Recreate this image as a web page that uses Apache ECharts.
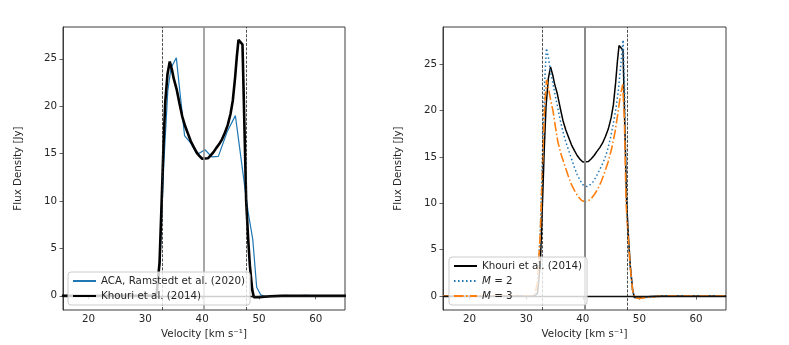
<!DOCTYPE html>
<html>
<head>
<meta charset="utf-8">
<script src="https://cdn.jsdelivr.net/npm/echarts@6/dist/echarts.min.js"></script>
<style>
html,body{margin:0;padding:0;background:#fff;}
#chart{width:789px;height:345px;}
</style>
</head>
<body>
<div id="chart"></div>
<script>
// ---- Data ----
const xTicks = [20, 30, 40, 50, 60];
const yTicks = [0, 5, 10, 15, 20, 25];
const vDashed = [32.9, 47.85];
const vCenter = 40.35;
const hZero = 0;

const acaName = 'ACA, Ramstedt et al. (2020)';
const khouriName = 'Khouri et al. (2014)';
const m2Name = 'M = 2';
const m3Name = 'M = 3';

const acaV = [15.5, 16.6, 17.7, 18.8, 19.9, 21.0, 22.1, 23.2, 24.3, 25.4, 26.5, 27.6, 28.7, 29.8, 30.9, 32.0, 32.6, 33.25, 33.95, 34.5, 35.45, 36.9, 38.0, 39.1, 40.5, 41.7, 42.85, 44.4, 45.85, 48.1, 48.9, 49.6, 50.3, 51.4, 52.5, 53.6, 54.7, 55.8, 56.9, 58.0, 59.1, 60.2, 61.3, 62.4, 63.5, 64.6, 65.3];
const acaF = [0.02, 0.05, -0.03, 0.04, 0.0, 0.03, -0.02, 0.05, 0.0, -0.04, 0.03, 0.0, 0.04, -0.02, 0.05, 0.2, 3.7, 14.0, 21.6, 24.0, 25.1, 16.9, 16.1, 14.9, 15.4, 14.65, 14.7, 17.3, 19.0, 8.8, 6.0, 0.9, 0.1, -0.1, 0.03, -0.02, 0.04, 0.0, -0.03, 0.05, 0.01, -0.04, 0.02, 0.0, 0.03, -0.02, 0.0];

const khouriV = [15.3, 31.5, 32.0, 32.5, 32.9, 33.2, 33.5, 33.9, 34.3, 34.7, 35.0, 35.5, 36.0, 36.5, 37.0, 37.5, 38.0, 38.5, 39.0, 39.5, 40.0, 40.35, 41.0, 41.5, 42.0, 42.5, 43.0, 43.5, 44.0, 44.5, 45.0, 45.4, 45.8, 46.1, 46.4, 47.1, 47.4, 47.75, 48.1, 48.4, 48.8, 49.1, 50.0, 52.0, 54.0, 65.3];
const khouriF = [0, 0, 0.3, 3.5, 10.5, 16.0, 20.4, 23.4, 24.7, 23.8, 22.9, 21.8, 20.3, 18.9, 17.9, 17.1, 16.3, 15.7, 15.15, 14.75, 14.45, 14.38, 14.5, 14.8, 15.15, 15.6, 16.0, 16.5, 17.2, 18.0, 19.2, 20.6, 23.0, 25.2, 27.0, 26.5, 19.0, 10.0, 6.0, 3.2, 0.7, -0.15, -0.15, -0.05, 0, 0];

const m2V = [15.3, 31.0, 31.5, 32.0, 32.5, 32.9, 33.25, 33.57, 33.9, 34.3, 34.7, 35.0, 35.5, 36.0, 36.5, 37.0, 37.5, 38.0, 38.5, 39.0, 39.5, 40.0, 40.35, 40.8, 41.3, 41.8, 42.3, 42.8, 43.3, 43.8, 44.3, 44.8, 45.3, 45.8, 46.25, 46.6, 46.9, 47.13, 47.4, 47.7, 48.0, 48.4, 48.8, 49.2, 50.0, 52.0, 54.0, 65.3];
const m2F = [0, 0, 0.2, 1.5, 7.0, 16.0, 23.0, 26.7, 25.8, 24.2, 23.0, 22.0, 20.5, 19.0, 17.7, 16.6, 15.7, 14.8, 13.9, 13.1, 12.5, 12.0, 11.8, 11.8, 12.0, 12.3, 12.8, 13.4, 14.0, 14.7, 15.6, 16.8, 18.3, 20.0, 22.0, 24.2, 26.2, 27.6, 22.0, 11.0, 6.5, 3.0, 0.6, -0.1, -0.2, -0.1, 0, 0];

const m3V = [15.3, 31.0, 31.5, 32.0, 32.5, 32.9, 33.25, 33.6, 33.9, 34.3, 34.75, 35.2, 35.6, 36.2, 36.8, 37.4, 38.0, 38.6, 39.2, 39.8, 40.35, 40.9, 41.5, 42.1, 42.7, 43.3, 43.9, 44.5, 45.1, 45.7, 46.25, 46.6, 47.05, 47.35, 47.65, 48.0, 48.4, 48.8, 49.2, 50.0, 52.0, 54.0, 65.3];
const m3F = [0, 0, 0.2, 1.5, 7.0, 14.5, 20.5, 23.3, 22.5, 21.2, 19.9, 18.1, 16.6, 15.2, 14.1, 13.0, 12.0, 11.3, 10.7, 10.3, 10.17, 10.25, 10.5, 11.0, 11.6, 12.4, 13.4, 14.5, 15.9, 17.7, 19.9, 21.5, 22.8, 19.0, 10.0, 6.5, 3.0, 0.6, -0.2, -0.25, -0.1, 0, 0];

// ---- Build chart ----
const pairs = (xs, ys) => xs.map((x, i) => [x, ys[i]]);
const FONT = 'DejaVu Sans';
const FS = 10.3;
const TXT = '#262626';
const FRAME = '#3c3c3c';

function xAxisDef(gi, min, max) {
  return {
    type: 'value', gridIndex: gi, min: min, max: max,
    name: 'Velocity [km s\u207B\u00B9]', nameLocation: 'middle', nameGap: 17,
    nameTextStyle: { fontFamily: FONT, fontSize: FS, color: TXT },
    axisLine: { show: true, lineStyle: { color: FRAME, width: 1 } },
    axisTick: { show: true, length: 3.5, customValues: xTicks, lineStyle: { color: FRAME, width: 0.8 } },
    axisLabel: { customValues: xTicks, margin: 4, fontFamily: FONT, fontSize: FS, color: TXT },
    splitLine: { show: false }
  };
}
function yAxisDef(gi, min, max) {
  return {
    type: 'value', gridIndex: gi, min: min, max: max,
    name: 'Flux Density [Jy]', nameLocation: 'middle', nameGap: 40,
    nameTextStyle: { fontFamily: FONT, fontSize: FS, color: TXT },
    axisLine: { show: true, lineStyle: { color: FRAME, width: 1 } },
    axisTick: { show: true, length: 3.5, customValues: yTicks, lineStyle: { color: FRAME, width: 0.8 } },
    axisLabel: { customValues: yTicks, margin: 6, fontFamily: FONT, fontSize: FS, color: TXT },
    splitLine: { show: false }
  };
}
function refLines(centerWidth) {
  return {
    silent: true, symbol: ['none', 'none'], label: { show: false },
    emphasis: { disabled: true },
    data: [
      { xAxis: vDashed[0], lineStyle: { color: '#222', width: 0.8, type: [3, 1.4] } },
      { xAxis: vDashed[1], lineStyle: { color: '#222', width: 0.8, type: [3, 1.4] } },
      { xAxis: vCenter, lineStyle: { color: '#8a8a8a', width: centerWidth, type: 'solid' } },
      { yAxis: hZero, lineStyle: { color: '#111', width: 1.3, type: 'solid' } }
    ]
  };
}
const baseSeries = { type: 'line', symbol: 'none', showSymbol: false, animation: false, silent: true, emphasis: { disabled: true } };

const legendCommon = {
  orient: 'vertical', align: 'left', z: 50, zlevel: 0,
  backgroundColor: 'rgba(255,255,255,0.8)', borderColor: '#cccccc', borderWidth: 1, borderRadius: 3,
  padding: [4, 5, 4, 4], itemGap: 5, itemWidth: 23, itemHeight: 10,
  itemStyle: { opacity: 0, borderWidth: 0 },
  textStyle: { fontFamily: FONT, fontSize: FS, color: TXT, rich: { i: { fontFamily: FONT, fontSize: FS, fontStyle: 'italic', color: TXT } } },
  formatter: n => n.trim().replace(/^M /, '{i|M} '),
  selectedMode: false
};

const option = {
  animation: false,
  backgroundColor: '#fff',
  grid: [
    { left: 63, top: 27, width: 282, height: 283, show: true, borderColor: FRAME, borderWidth: 1, backgroundColor: 'transparent' },
    { left: 443, top: 27, width: 283, height: 283, show: true, borderColor: FRAME, borderWidth: 1, backgroundColor: 'transparent' }
  ],
  xAxis: [xAxisDef(0, 15.5, 65.15), xAxisDef(1, 15.3, 65.3)],
  yAxis: [yAxisDef(0, -1.5, 28.35), yAxisDef(1, -1.5, 29.0)],
  legend: [
    Object.assign({}, legendCommon, { left: 68, top: 272, data: [acaName, khouriName] }),
    Object.assign({}, legendCommon, { left: 449, top: 257, data: [khouriName + ' ', m2Name, m3Name] })
  ],
  series: [
    Object.assign({}, baseSeries, { name: acaName, xAxisIndex: 0, yAxisIndex: 0, data: pairs(acaV, acaF),
      lineStyle: { color: '#1f77b4', width: 1.2 }, itemStyle: { color: '#1f77b4' }, z: 2, markLine: refLines(1.5) }),
    Object.assign({}, baseSeries, { name: khouriName, xAxisIndex: 0, yAxisIndex: 0, data: pairs(khouriV, khouriF),
      lineStyle: { color: '#000', width: 2.6 }, itemStyle: { color: '#000' }, z: 3 }),
    Object.assign({}, baseSeries, { name: khouriName + ' ', xAxisIndex: 1, yAxisIndex: 1, data: pairs(khouriV, khouriF),
      lineStyle: { color: '#000', width: 1.5 }, itemStyle: { color: '#000' }, z: 2, markLine: refLines(2) }),
    Object.assign({}, baseSeries, { name: m2Name, xAxisIndex: 1, yAxisIndex: 1, data: pairs(m2V, m2F),
      lineStyle: { color: '#1f77b4', width: 1.5, type: [1.5, 2.5] }, itemStyle: { color: '#1f77b4' }, z: 3 }),
    Object.assign({}, baseSeries, { name: m3Name, xAxisIndex: 1, yAxisIndex: 1, data: pairs(m3V, m3F),
      lineStyle: { color: '#ff7f0e', width: 1.6, type: [9.6, 2.4, 1.5, 2.4] }, itemStyle: { color: '#ff7f0e' }, z: 4 })
  ]
};
const chart = echarts.init(document.getElementById('chart'), null, { renderer: 'canvas' });
chart.setOption(option);
</script>
</body>
</html>
